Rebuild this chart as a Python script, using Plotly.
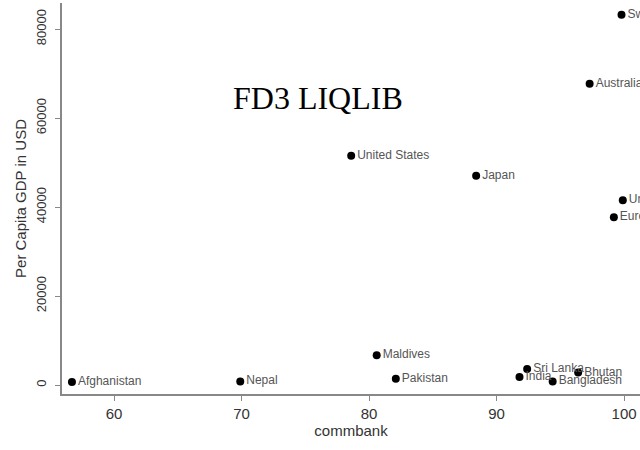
import plotly.graph_objects as go

countries = ["Afghanistan", "Nepal", "Maldives", "Pakistan", "United States", "Japan",
             "Switzerland", "Australia", "United Kingdom", "Euro area",
             "Sri Lanka", "India", "Bangladesh", "Bhutan"]
commbank = [56.7, 69.9, 80.6, 82.1, 78.6, 88.4, 99.8, 97.3, 99.9, 99.2, 92.4, 91.8, 94.4, 96.4]
gdp = [700, 800, 6700, 1400, 51500, 47000, 83200, 67700, 41500, 37700, 3600, 1800, 800, 2800]

x_ticks = [60, 70, 80, 90, 100]
x_ticktext = ["60", "70", "80", "90", "100"]
y_ticks = [0, 20000, 40000, 60000, 80000]
y_ticktext = ["0", "20000", "40000", "60000", "80000"]

fig = go.Figure()
fig.add_trace(go.Scatter(
    x=commbank, y=gdp, mode="markers+text", text=countries,
    textposition="middle right", cliponaxis=False,
    marker=dict(size=8, color="black"),
    textfont=dict(family="Liberation Sans, Arial", size=12, color="#555"),
    showlegend=False, hoverinfo="skip"))

fig.add_annotation(x=75.96, y=64600, xref="x", yref="y", text="FD3 LIQLIB",
                   showarrow=False, font=dict(family="Liberation Serif, Times New Roman",
                                               size=32, color="black"))

axis_font = dict(family="Liberation Sans, Arial", color="#333")
fig.update_layout(
    width=640, height=450,
    margin=dict(l=62, r=0, t=3, b=56, autoexpand=False),
    paper_bgcolor="white", plot_bgcolor="white",
    xaxis=dict(range=[55.92, 101.25], tickvals=x_ticks, ticktext=x_ticktext,
               showgrid=False, zeroline=False, automargin=False,
               showline=True, linecolor="#888", linewidth=2,
               ticks="outside", ticklen=5, tickcolor="#888", tickwidth=1,
               tickfont=dict(size=15, **axis_font),
               title=dict(text="commbank", font=dict(size=15, **axis_font), standoff=2)),
    yaxis=dict(range=[-2022, 85843], tickvals=y_ticks, ticktext=y_ticktext,
               showgrid=False, zeroline=False, automargin=False,
               showline=True, linecolor="#888", linewidth=2,
               ticks="outside", ticklen=5, tickcolor="#888", tickwidth=1,
               tickangle=-90, tickfont=dict(size=13, **axis_font), ticklabelstandoff=4,
               title=dict(text="Per Capita GDP in USD", font=dict(size=15, **axis_font), standoff=4)),
)

fig.write_html("out.html", config={"displayModeBar": False},
               post_script="document.body.style.margin='0px';")
